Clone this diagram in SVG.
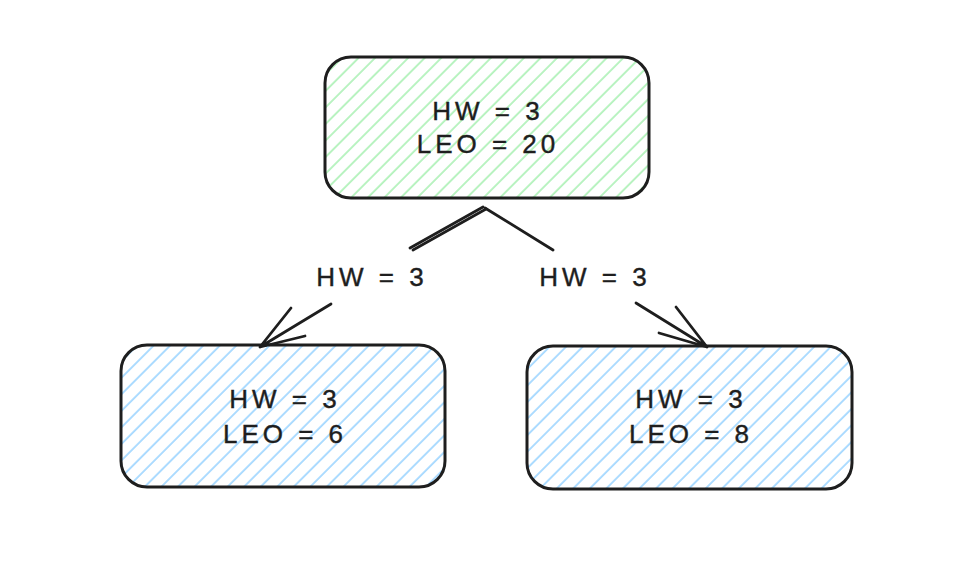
<svg xmlns="http://www.w3.org/2000/svg" width="957" height="561" viewBox="0 0 957 561">
<style>
.box{stroke:#1e1e1e;stroke-width:3;stroke-linejoin:round}
.t{font-family:"Liberation Sans",Arial,sans-serif;font-size:26px;fill:#1e1e1e;stroke:#1e1e1e;stroke-width:0.4;text-anchor:middle;letter-spacing:4px}
.c{stroke:#1e1e1e;stroke-width:2.8;fill:none;stroke-linecap:round;stroke-linejoin:round}
</style>
<defs>
<pattern id="hg" patternUnits="userSpaceOnUse" width="11.7" height="11.7" patternTransform="rotate(45)">
<line x1="2" y1="0" x2="2" y2="11.7" stroke="#b2f2bb" stroke-width="1.8"/>
</pattern>
<pattern id="hb" patternUnits="userSpaceOnUse" width="11.7" height="11.7" patternTransform="rotate(45)">
<line x1="2" y1="0" x2="2" y2="11.7" stroke="#a5d8ff" stroke-width="1.8"/>
</pattern>
</defs>
<rect width="957" height="561" fill="#ffffff"/>
<g id="connectors">
<path class="c" d="M483 207 L410 248"/>
<path class="c" d="M486 209 L413 250" stroke-width="1.4"/>
<path class="c" d="M331 304 L260 347 M291 308 L260 347 L305 336"/>
<path class="c" d="M485 208 L553 250"/>
<path class="c" d="M636 303 L707 347 M676 307 L707 347 L659 333"/>
<text class="t" x="372" y="286">HW = 3</text>
<text class="t" x="595" y="286">HW = 3</text>
</g>
<g id="node-top">
<rect class="box" x="325" y="57" width="324" height="141" rx="26" fill="url(#hg)"/>
<text class="t" x="488" y="120">HW = 3</text>
<text class="t" x="488" y="153">LEO = 20</text>
</g>
<g id="node-left">
<rect class="box" x="121" y="345" width="324" height="142" rx="26" fill="url(#hb)"/>
<text class="t" x="285" y="408">HW = 3</text>
<text class="t" x="285" y="443">LEO = 6</text>
</g>
<g id="node-right">
<rect class="box" x="527" y="346" width="325" height="143" rx="26" fill="url(#hb)"/>
<text class="t" x="691" y="408">HW = 3</text>
<text class="t" x="691" y="443">LEO = 8</text>
</g>
</svg>
